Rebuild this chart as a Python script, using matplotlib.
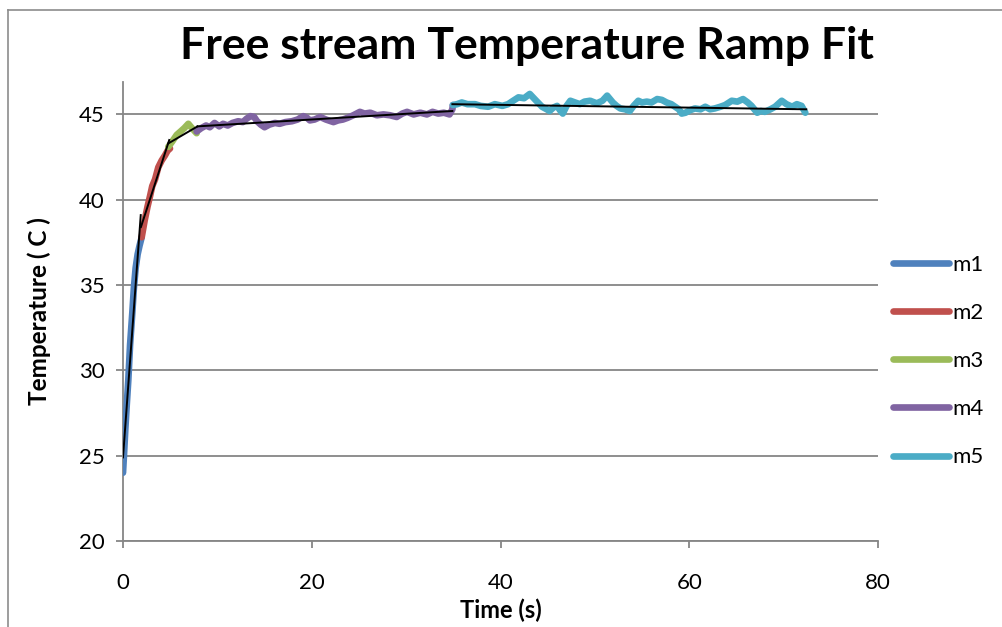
import matplotlib
matplotlib.use("Agg")
import matplotlib.pyplot as plt
from matplotlib.lines import Line2D

plt.rcParams['font.family'] = ['Lato', 'DejaVu Sans']

# Measured temperature, split into the five fitted regimes
m1_t = [0.0, 0.1, 0.25, 0.4, 0.56, 0.75, 0.99, 1.15, 1.34, 1.55, 1.75, 1.98]
m1_T = [24.0, 25.0, 26.6, 28.0, 29.4, 31.5, 33.4, 34.8, 36.0, 36.8, 37.3, 37.8]

m2_t = [1.98, 2.3, 2.6, 2.86, 3.1, 3.4, 3.74, 4.1, 4.45, 4.75, 4.98]
m2_T = [37.8, 38.8, 39.6, 40.2, 40.8, 41.2, 41.9, 42.3, 42.6, 42.9, 43.0]

m3_t = [4.8, 5.2, 5.69, 6.1, 6.5, 6.92, 7.3, 7.8]
m3_T = [43.1, 43.4, 43.8, 44.0, 44.2, 44.45, 44.2, 43.9]

m4_t = [7.8, 8.3, 8.8, 9.2, 9.7, 10.2, 10.6, 11.1, 11.6, 12.2, 12.7, 13.1,
        13.5, 13.9, 14.2, 14.6, 15.0, 15.5, 16.1, 16.6, 17.2, 17.9, 18.5,
        19.1, 19.5, 19.8, 20.3, 20.9, 21.5, 22.3, 22.8, 23.3, 23.8, 24.4,
        25.1, 25.6, 26.2, 26.9, 27.6, 28.3, 29.0, 29.6, 30.1, 30.8, 31.5,
        32.2, 32.8, 33.4, 34.0, 34.6, 34.9, 34.95]
m4_T = [44.0, 44.2, 44.35, 44.25, 44.5, 44.3, 44.45, 44.35, 44.5, 44.6, 44.55,
        44.75, 44.9, 44.85, 44.6, 44.4, 44.25, 44.4, 44.5, 44.45, 44.55, 44.6,
        44.7, 44.9, 44.8, 44.65, 44.7, 44.85, 44.7, 44.55, 44.65, 44.7, 44.8,
        44.95, 45.15, 45.05, 45.1, 44.95, 45.0, 44.95, 44.85, 45.05, 45.15,
        45.0, 45.1, 45.0, 45.15, 45.05, 45.1, 45.0, 45.3, 45.55]

m5_t = [34.95, 35.4, 35.9, 36.5, 37.3, 37.9, 38.7, 39.4, 40.2, 40.8, 41.2,
        41.9, 42.5, 43.1, 43.7, 44.4, 44.9, 45.2, 45.6, 46.0, 46.3, 46.6,
        47.0, 47.4, 47.9, 48.4, 48.9, 49.5, 50.2, 50.8, 51.3, 51.9, 52.3,
        52.7, 53.2, 53.7, 54.1, 54.6, 55.0, 55.5, 56.0, 56.6, 57.1, 57.6,
        58.1, 58.5, 58.9, 59.2, 59.6, 60.1, 60.6, 61.2, 61.7, 62.2, 62.7,
        63.3, 63.8, 64.5, 65.1, 65.7, 66.2, 66.6, 67.2, 67.6, 68.0, 68.6,
        69.1, 69.8, 70.3, 70.9, 71.4, 71.9, 72.3]
m5_T = [45.55, 45.6, 45.7, 45.6, 45.6, 45.5, 45.45, 45.6, 45.5, 45.6, 45.75,
        46.0, 45.95, 46.2, 45.85, 45.45, 45.3, 45.2, 45.4, 45.5, 45.25, 45.05,
        45.5, 45.8, 45.7, 45.6, 45.75, 45.8, 45.65, 45.8, 46.1, 45.7, 45.5,
        45.35, 45.3, 45.2, 45.5, 45.8, 45.7, 45.75, 45.7, 45.9, 45.85, 45.7,
        45.6, 45.45, 45.3, 45.05, 45.1, 45.25, 45.35, 45.3, 45.45, 45.3, 45.35,
        45.45, 45.55, 45.8, 45.75, 45.9, 45.7, 45.5, 45.1, 45.2, 45.15, 45.3,
        45.45, 45.8, 45.6, 45.45, 45.6, 45.5, 45.1]

# Linear fit segments (start, end) for each regime
fit_t = [(0.0, 1.88), (1.9, 4.9), (4.8, 7.9), (7.9, 34.9), (34.9, 72.4)]
fit_T = [(24.9, 39.1), (38.4, 43.5), (43.3, 44.3), (44.3, 45.2), (45.6, 45.3)]

series = [("m1", m1_t, m1_T, "#4F81BD"),
          ("m2", m2_t, m2_T, "#C0504D"),
          ("m3", m3_t, m3_T, "#9BBB59"),
          ("m4", m4_t, m4_T, "#8064A2"),
          ("m5", m5_t, m5_T, "#4BACC6")]

x_ticks = [0, 20, 40, 60, 80]
y_ticks = [20, 25, 30, 35, 40, 45]

W, H = 1002, 627
fig = plt.figure(figsize=(W / 100, H / 100), dpi=100)
ax = fig.add_axes([123 / W, 1 - 541 / H, (878 - 123) / W, (541 - 82) / H])

grey = "#868686"
for name, t, T, c in series:
    ax.plot(t, T, color=c, lw=4.8, solid_capstyle="round",
            solid_joinstyle="round", label=name, zorder=3)
for (t0, t1), (T0, T1) in zip(fit_t, fit_T):
    ax.plot([t0, t1], [T0, T1], color="black", lw=1.4, zorder=4)

ax.set_xlim(0, 80)
ax.set_ylim(20, 46.9)
ax.set_xticks(x_ticks)
ax.set_yticks(y_ticks)
ax.yaxis.grid(True, color=grey, lw=1.3)
ax.set_axisbelow(True)
for s in ["top", "right"]:
    ax.spines[s].set_visible(False)
for s in ["left", "bottom"]:
    ax.spines[s].set_color(grey)
    ax.spines[s].set_linewidth(1.3)
ax.tick_params(axis="both", direction="out", length=5, width=1.3,
               color=grey, labelsize=16, labelcolor="black")
ax.tick_params(axis="x", pad=18)
ax.tick_params(axis="y", pad=8)

ax.set_xlabel("Time (s)", fontsize=17, fontweight="bold", labelpad=4)
ax.set_ylabel("Temperature ( C )", fontsize=17.5, fontweight="bold", labelpad=20)

fig.text(527 / W, 1 - 46 / H, "Free stream Temperature Ramp Fit",
         fontsize=32, fontweight="bold", ha="center", va="center")

leg = ax.legend(loc="center left", bbox_to_anchor=(882 / W, 1 - 361 / H),
                bbox_transform=fig.transFigure, frameon=False, fontsize=16,
                handlelength=2.5, handletextpad=0.15, labelspacing=1.27,
                borderpad=0)

# Chart-area border
fig.add_artist(Line2D([7.5 / W, 7.5 / W], [0, 1 - 10 / H], color="#8c8c8c",
                      lw=1.2, transform=fig.transFigure))
fig.add_artist(Line2D([7.5 / W, 1], [1 - 10 / H, 1 - 10 / H], color="#8c8c8c",
                      lw=1.2, transform=fig.transFigure))

fig.savefig("out.png", dpi=100, facecolor="white")
